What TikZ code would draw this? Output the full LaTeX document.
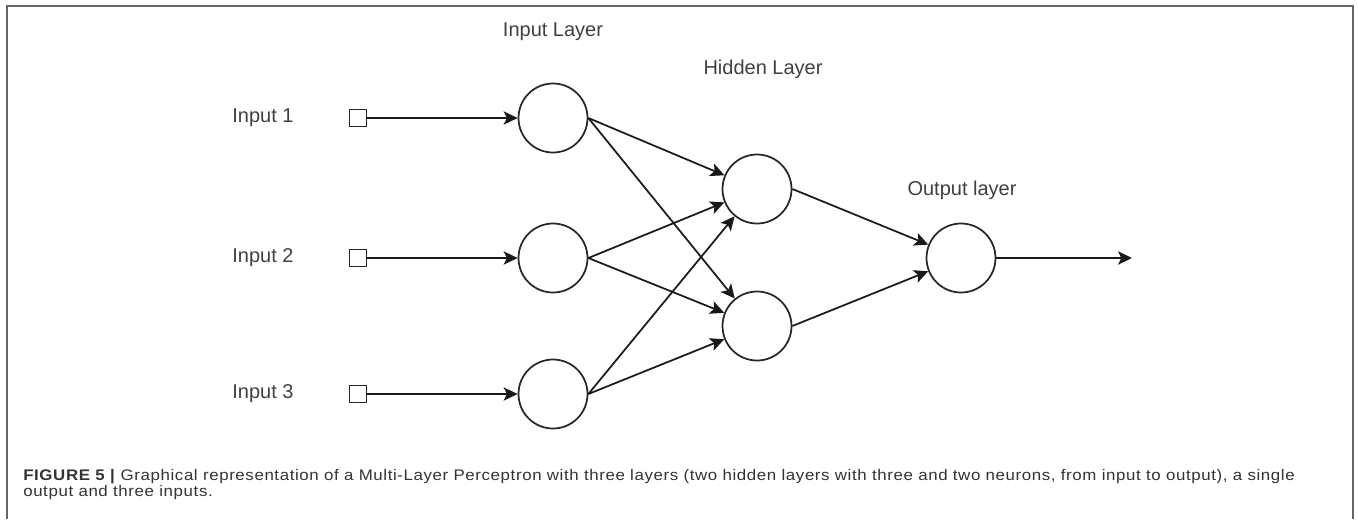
\documentclass[tikz,border=0pt]{standalone}
\usepackage{fontspec}
\setmainfont{Liberation Sans}
\newfontfamily\capfont[FakeStretch=1.1,LetterSpace=4]{Liberation Sans}
\usetikzlibrary{positioning,arrows.meta}

\begin{document}
\begin{tikzpicture}[x=0.75pt,y=-0.75pt,
  neuron/.style={circle,draw=black!85,line width=1.3pt,minimum size=51.75pt,inner sep=0pt},
  inbox/.style={rectangle,draw=black!85,line width=1.2pt,minimum size=13pt,inner sep=0pt},
  lbl/.style={text=black!75,font=\fontsize{15}{18}\selectfont,inner sep=0pt},
  conn/.style={draw=black!90,line width=1.3pt,-{Stealth[length=10.5pt,width=10pt,inset=2.5pt]}}]
  \useasboundingbox (0,0) rectangle (1358,519);
  \draw[black!60,line width=1.2pt] (7,519) -- (7,6) -- (1353,6) -- (1353,519);
  \node[lbl] (inlayer) at (553,32) {Input Layer};
  \node[lbl] (hidlayer) at (763,69) {Hidden Layer};
  \node[lbl] (outlayer) at (962,190) {Output layer};
  \foreach \i/\y in {1/118,2/258,3/394}{
    \node[lbl] (lab\i) at (263,\y) {Input \i};
    \node[inbox] (x\i) at (358,\y) {};
    \node[neuron] (in\i) at (553,\y) {};
    \draw[conn] (x\i) -- (in\i);
  }
  \node[neuron] (h1) at (757,189) {};
  \node[neuron] (h2) at (757,326) {};
  \node[neuron] (out) at (961,258) {};
  \coordinate (y) at (1132,258);
  \foreach \i in {1,2,3}{
    \foreach \j in {1,2}
      \draw[conn] (in\i.east) -- (h\j);
  }
  \draw[conn] (h1.east) -- (out);
  \draw[conn] (h2.east) -- (out);
  \draw[conn] (out) -- (y);
  \node[anchor=base west,align=left,inner sep=0pt,text=black!80,
    font=\capfont\fontsize{11.5}{12}\selectfont] (caption) at (23,496)
    {\textbf{FIGURE 5 |} Graphical representation of a Multi-Layer Perceptron with three layers (two hidden layers with three and two neurons, from input to output), a single\\
     output and three inputs.};
\end{tikzpicture}
\end{document}
